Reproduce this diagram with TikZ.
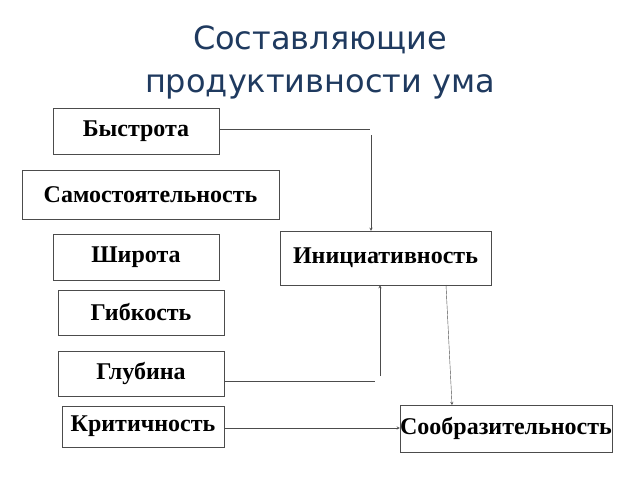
\documentclass[tikz,border=0pt]{standalone}
\usepackage{fontspec}
\setmainfont{Liberation Serif}
\newfontfamily\titlefont{DejaVu Sans}
\usetikzlibrary{positioning}
\definecolor{titleblue}{HTML}{1F3A5F}
\tikzset{%
	item/.style={draw=black!70, rectangle, inner sep=0pt, font=\bfseries\fontsize{24}{26}\selectfont},
	link/.style={draw=black!70},
	arr/.style={->, >=stealth, draw=black!70}
}
\begin{document}
\begin{tikzpicture}[x=1pt, y=-1pt]
		\useasboundingbox (0,0) rectangle (640,480);
		\node[font=\titlefont\fontsize{32}{43}\selectfont, text=titleblue, align=center] (title) at (320,62) {Составляющие\\ продуктивности ума};
		\node[item, minimum width=166pt, minimum height=46pt] (bys) at (136,131) {Быстрота};
		\node[item, minimum width=257pt, minimum height=49pt] (sam) at (150.5,194.5) {Самостоятельность};
		\node[item, minimum width=166pt, minimum height=46pt] (shi) at (136,257) {Широта};
		\node[item, minimum width=211pt, minimum height=54pt] (ini) at (385.5,258) {Инициативность};
		\node[item, minimum width=166pt, minimum height=45pt] (gib) at (141,312.5) {Гибкость};
		\node[item, minimum width=166pt, minimum height=45pt] (glu) at (141,373.5) {Глубина};
		\node[item, minimum width=162pt, minimum height=41pt] (kri) at (143,426.5) {Критичность};
		\node[item, minimum width=212pt, minimum height=47pt] (soo) at (506,428.5) {Сообразительность};
		% connectors
		\coordinate (b1) at (370,129);
		\coordinate (b2) at (371,135);
		\coordinate (g1) at (375,381);
		\coordinate (g2) at (380,376);
		\draw [link] (bys.east |- b1) -- (b1);
		\draw [arr] (b2) -- (b2 |- ini.north);
		\draw [link] (glu.east |- g1) -- (g1);
		\draw [arr] (g2) -- (g2 |- ini.south);
		\draw [arr] (446,285) -- (452,405);
		\draw [arr] (kri.east |- 0,428) -- (soo.west |- 0,428);
\end{tikzpicture}
\end{document}
